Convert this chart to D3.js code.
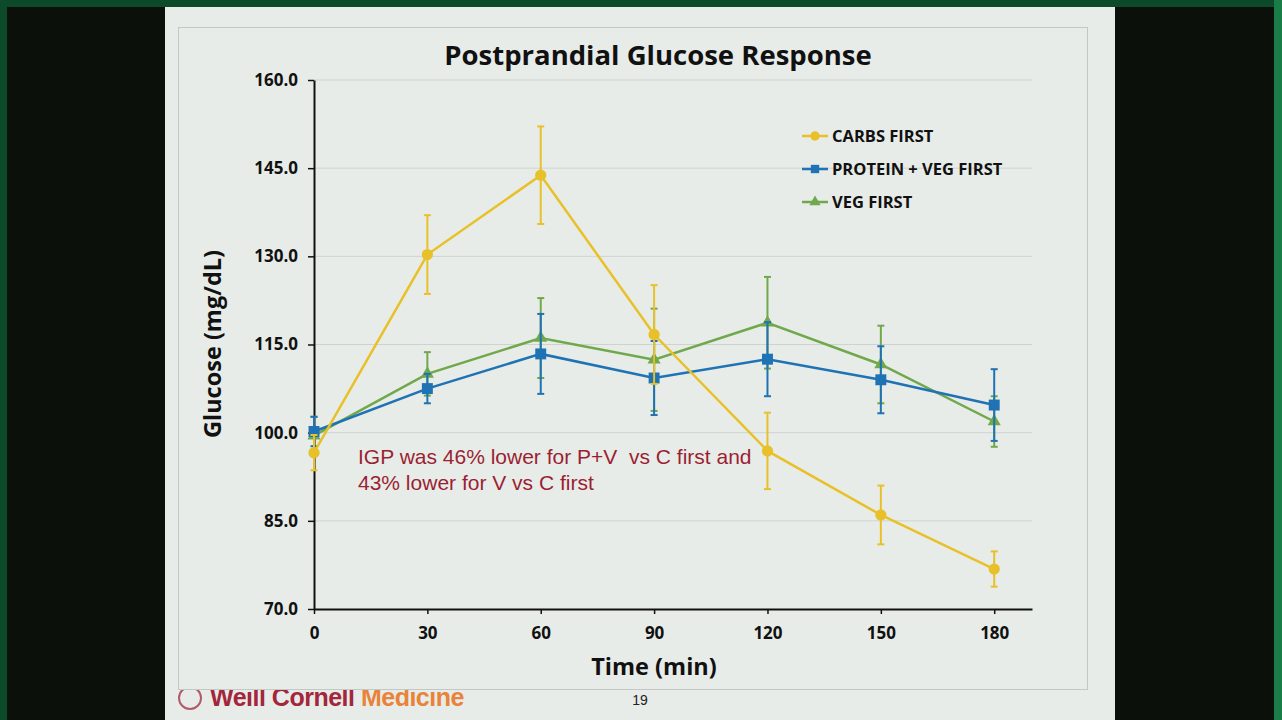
<!DOCTYPE html>
<html><head><meta charset="utf-8">
<script src="https://cdn.jsdelivr.net/npm/d3@7"></script>
<style>
html,body{margin:0;padding:0;background:#0b100b;overflow:hidden}
svg{display:block}
</style></head>
<body>
<svg id="c" width="1282" height="720"></svg>
<script>
// ---- data ----
const times = [0, 30, 60, 90, 120, 150, 180];
const yTicks = [70, 85, 100, 115, 130, 145, 160];
const xTicks = [0, 30, 60, 90, 120, 150, 180];
const seriesNames = ["CARBS FIRST", "PROTEIN + VEG FIRST", "VEG FIRST"];
const carbsMean = [96.6, 130.3, 143.8, 116.7, 96.9, 86.0, 76.8];
const carbsErr  = [3.0, 6.7, 8.3, 8.4, 6.5, 5.0, 3.0];
const protMean  = [100.2, 107.5, 113.4, 109.3, 112.5, 109.0, 104.7];
const protErr   = [2.5, 2.5, 6.8, 6.3, 6.3, 5.7, 6.1];
const vegMean   = [99.5, 110.0, 116.1, 112.4, 118.7, 111.6, 101.9];
const vegErr    = [3.2, 3.7, 6.8, 8.7, 7.8, 6.6, 4.3];

const svg = d3.select("#c");
// frame
svg.append("rect").attr("x",0).attr("y",0).attr("width",1282).attr("height",720).attr("fill","#0b100b");
svg.append("rect").attr("x",0).attr("y",0).attr("width",1282).attr("height",7).attr("fill","#0d4a2a");
svg.append("rect").attr("x",0).attr("y",0).attr("width",7).attr("height",720).attr("fill","#0d4a2a");
svg.append("rect").attr("x",1274).attr("y",0).attr("width",8).attr("height",720).attr("fill","#1a7d47");
svg.append("rect").attr("x",165).attr("y",7).attr("width",950).attr("height",713).attr("fill","#e8ece8");

// footer (partly hidden by chart box)
const ft = svg.append("text").attr("x",210).attr("y",706)
  .attr("font-family","Liberation Sans, Arial, sans-serif").attr("font-weight","bold")
  .attr("font-size",25).attr("letter-spacing","-0.5");
ft.append("tspan").attr("fill","#a3263c").text("Weill Cornell ");
ft.append("tspan").attr("fill","#e8833a").text("Medicine");
svg.append("circle").attr("cx",190).attr("cy",698).attr("r",11).attr("fill","none").attr("stroke","#b35a6a").attr("stroke-width",2);
svg.append("text").attr("x",640).attr("y",705).attr("text-anchor","middle")
  .attr("font-family","Liberation Sans, Arial, sans-serif").attr("font-size",14).attr("fill","#222").text("19");

// chart box
svg.append("rect").attr("x",178.5).attr("y",27.5).attr("width",909).attr("height",662)
  .attr("fill","#e8ece8").attr("stroke","#c4c8c4").attr("stroke-width",1);

const x = d3.scaleLinear().domain([0,190]).range([314,1032]);
const y = d3.scaleLinear().domain([70,160]).range([609,80]);

// gridlines
svg.append("g").selectAll("line").data(yTicks.filter(v=>v>70)).join("line")
  .attr("x1",314).attr("x2",1032).attr("y1",d=>y(d)).attr("y2",d=>y(d))
  .attr("stroke","#cfd3cf").attr("stroke-width",1);

const fontUI = "Open Sans, Lato, sans-serif";

// axes
const yAxis = svg.append("g").attr("transform","translate(314,0)")
  .call(d3.axisLeft(y).tickValues(yTicks).tickFormat(d3.format(".1f")).tickSize(6).tickSizeOuter(0));
const xAxis = svg.append("g").attr("transform","translate(0,609)")
  .call(d3.axisBottom(x).tickValues(xTicks).tickSize(5).tickSizeOuter(0));
[yAxis,xAxis].forEach(a=>{
  a.select(".domain").attr("stroke","#111").attr("stroke-width",2);
  a.selectAll(".tick line").attr("stroke","#111").attr("stroke-width",1.5);
  a.selectAll(".tick text").attr("font-family",fontUI).attr("font-weight","bold")
    .attr("font-size",17).attr("fill","#111");
});
yAxis.selectAll(".tick text").attr("x",-16);
xAxis.selectAll(".tick text").attr("y",18);

// title & axis labels
svg.append("text").attr("x",658).attr("y",65).attr("text-anchor","middle")
  .attr("font-family",fontUI).attr("font-weight","bold").attr("font-size",27.5).attr("fill","#111")
  .text("Postprandial Glucose Response");
svg.append("text").attr("x",654).attr("y",675).attr("text-anchor","middle")
  .attr("font-family",fontUI).attr("font-weight","bold").attr("font-size",23.5).attr("fill","#111")
  .text("Time (min)");
svg.append("text").attr("transform","translate(221,344) rotate(-90)").attr("text-anchor","middle")
  .attr("font-family",fontUI).attr("font-weight","bold").attr("font-size",23.5).attr("fill","#111")
  .text("Glucose (mg/dL)");

// series
const series = [
  {name:seriesNames[0], mean:carbsMean, err:carbsErr, color:"#e8c12a", marker:"circle"},
  {name:seriesNames[1], mean:protMean, err:protErr, color:"#1f72b4", marker:"square"},
  {name:seriesNames[2], mean:vegMean, err:vegErr, color:"#70a84c", marker:"triangle"}
];
const line = d3.line().x(d=>x(d.t)).y(d=>y(d.v));
const symGen = {
  circle: d3.symbol().type(d3.symbolCircle).size(100),
  square: d3.symbol().type(d3.symbolSquare).size(120),
  triangle: d3.symbol().type(d3.symbolTriangle).size(75)
};
const order = [2,1,0];
order.forEach(i=>{
  const s = series[i];
  const pts = times.map((t,k)=>({t, v:s.mean[k], e:s.err[k]}));
  const g = svg.append("g");
  g.selectAll("line.eb").data(pts).join("line")
    .attr("x1",d=>x(d.t)).attr("x2",d=>x(d.t)).attr("y1",d=>y(d.v+d.e)).attr("y2",d=>y(d.v-d.e))
    .attr("stroke",s.color).attr("stroke-width",2);
  g.selectAll("line.cap1").data(pts).join("line")
    .attr("x1",d=>x(d.t)-3.5).attr("x2",d=>x(d.t)+3.5).attr("y1",d=>y(d.v+d.e)).attr("y2",d=>y(d.v+d.e))
    .attr("stroke",s.color).attr("stroke-width",2);
  g.selectAll("line.cap2").data(pts).join("line")
    .attr("x1",d=>x(d.t)-3.5).attr("x2",d=>x(d.t)+3.5).attr("y1",d=>y(d.v-d.e)).attr("y2",d=>y(d.v-d.e))
    .attr("stroke",s.color).attr("stroke-width",2);
  g.append("path").datum(pts).attr("d",line).attr("fill","none")
    .attr("stroke",s.color).attr("stroke-width",2.5);
  g.selectAll("path.m").data(pts).join("path").attr("class","m")
    .attr("transform",d=>`translate(${x(d.t)},${y(d.v)})`)
    .attr("d",symGen[s.marker]).attr("fill",s.color);
});

// legend
const lg = svg.append("g");
series.forEach((s,i)=>{
  const ly = 136 + i*33;
  lg.append("line").attr("x1",802).attr("x2",828).attr("y1",ly).attr("y2",ly)
    .attr("stroke",s.color).attr("stroke-width",2.5);
  lg.append("path").attr("transform",`translate(815,${ly})`)
    .attr("d",d3.symbol().type(s.marker==="circle"?d3.symbolCircle:s.marker==="square"?d3.symbolSquare:d3.symbolTriangle)
      .size(s.marker==="triangle"?55:70)()).attr("fill",s.color);
  lg.append("text").attr("x",832).attr("y",ly+6).attr("font-family",fontUI).attr("font-weight","bold")
    .attr("font-size",16.5).attr("fill","#111").text(s.name);
});

// annotation
const ann = svg.append("text").attr("font-family","Liberation Sans, Arial, sans-serif")
  .attr("font-size",21).attr("fill","#9b1f33");
ann.append("tspan").attr("x",358).attr("y",464).attr("xml:space","preserve").text("IGP was 46% lower for P+V  vs C first and");
ann.append("tspan").attr("x",358).attr("y",490).text("43% lower for V vs C first");
</script>
</body></html>
